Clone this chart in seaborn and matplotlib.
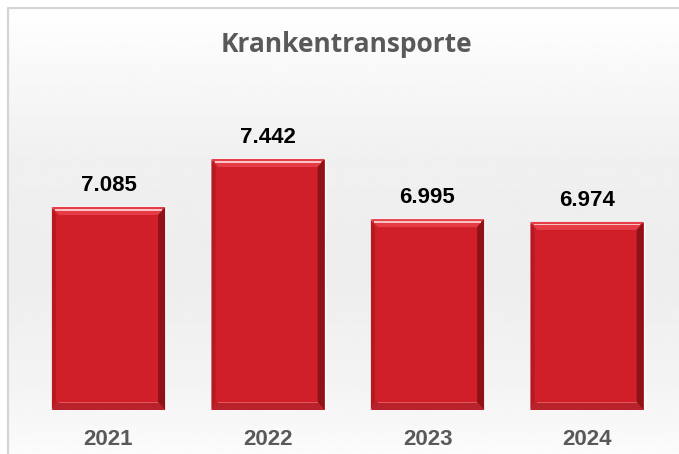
import numpy as np
import pandas as pd
import matplotlib
matplotlib.use("Agg")
import matplotlib.pyplot as plt
import seaborn as sns
from matplotlib.patches import Rectangle, Polygon


# DADOS

jahre = ["2021", "2022", "2023", "2024"]
werte = [7085, 7442, 6995, 6974]
werte_text = ["7.085", "7.442", "6.995", "6.974"]
titel = "Krankentransporte"

df = pd.DataFrame({"jahr": jahre, "wert": werte})


# FIGURA

sns.set_style("white")

fig = plt.figure(figsize=(6.79, 4.54), dpi=100)

# fundo com gradiente
bg = fig.add_axes([0, 0, 1, 1], zorder=0)
ys = np.array([0.0, 0.15, 0.35, 0.6, 0.85, 1.0])
cs = np.array([1.0, 0.975, 0.94, 0.93, 0.955, 0.985])
grad = np.interp(np.linspace(0, 1, 300), ys, cs)[:, None]
bg.imshow(np.repeat(grad, 2, axis=1), cmap="gray", vmin=0, vmax=1,
          aspect="auto", extent=[0, 1, 1, 0], zorder=0)
bg.set_xlim(0, 1)
bg.set_ylim(1, 0)
bg.axis("off")
# faixa branca fora da moldura
bg.add_patch(Rectangle((0, 0), 1, 7.5 / 454, color="white", zorder=3))
bg.add_patch(Rectangle((0, 0), 7.5 / 679, 1, color="white", zorder=3))
# moldura
bg.plot([8 / 679, 8 / 679, 1], [1, 8 / 454, 8 / 454], color="#d4d4d4",
        linewidth=1.6, zorder=5, solid_capstyle="butt")

ax = fig.add_axes([28.75 / 679, 1 - 410 / 454, 638 / 679, 326 / 454], zorder=1)
ax.patch.set_alpha(0)

sns.barplot(
    data=df,
    x="jahr",
    y="wert",
    color="#d11f29",
    width=0.71,
    saturation=1,
    ax=ax
)

ax.set_ylim(5575, 8000)
ax.set_xlim(-0.5, 3.5)

# efeito de relevo nas barras
px_x = (3.5 + 0.5) / 638
px_y = (8000 - 5575) / 326
y0 = 5575
for p in ax.patches[:len(werte)]:
    x0 = p.get_x()
    w = p.get_width()
    y1 = p.get_y() + p.get_height()
    b = 7 * px_x
    bh = 8 * px_y
    # topo claro
    ax.add_patch(Polygon([[x0, y1], [x0 + w, y1], [x0 + w - b, y1 - bh], [x0 + b, y1 - bh]],
                         closed=True, color="#e63c46", zorder=3, linewidth=0))
    ax.add_patch(Rectangle((x0 + b * 0.5, y1 - 3.5 * px_y), w - b, 1.6 * px_y,
                           color="#f9c2c4", zorder=4, linewidth=0))
    # lado direito escuro
    ax.add_patch(Polygon([[x0 + w, y1], [x0 + w, y0], [x0 + w - b, y0 + bh], [x0 + w - b, y1 - bh]],
                         closed=True, color="#8e1218", zorder=3, linewidth=0))
    # lado esquerdo
    ax.add_patch(Polygon([[x0, y1], [x0, y0], [x0 + b * 0.6, y0 + bh], [x0 + b * 0.6, y1 - bh]],
                         closed=True, color="#b51a22", zorder=3, linewidth=0))
    # base
    ax.add_patch(Polygon([[x0, y0], [x0 + w, y0], [x0 + w - b, y0 + bh], [x0 + b * 0.6, y0 + bh]],
                         closed=True, color="#b8232b", zorder=3, linewidth=0))
    ax.add_patch(Rectangle((x0 + b, y0 + bh - 1.2 * px_y), w - 2 * b, 1.2 * px_y,
                           color="#e0555c", zorder=4, linewidth=0))

# rótulos
for i, (v, t) in enumerate(zip(werte, werte_text)):
    ax.text(i, v + 11 * px_y, t, ha="center", va="bottom",
            fontsize=16, fontweight="bold", color="black",
            family=["Liberation Sans", "DejaVu Sans"])

sns.despine(ax=ax, left=True, bottom=True)
ax.set_yticks([])
ax.set_xlabel("")
ax.set_ylabel("")
ax.tick_params(axis="x", length=0, pad=14)
for lab in ax.get_xticklabels():
    lab.set_fontsize(16)
    lab.set_fontweight("bold")
    lab.set_color("#595959")
    lab.set_family(["Liberation Sans Narrow", "Liberation Sans", "DejaVu Sans"])

fig.text(346 / 679, 1 - 45 / 454, titel, ha="center", va="center",
         fontsize=19, fontweight="bold", color="#595959",
         family=["Open Sans", "DejaVu Sans"])

fig.savefig("out.png", dpi=100)
